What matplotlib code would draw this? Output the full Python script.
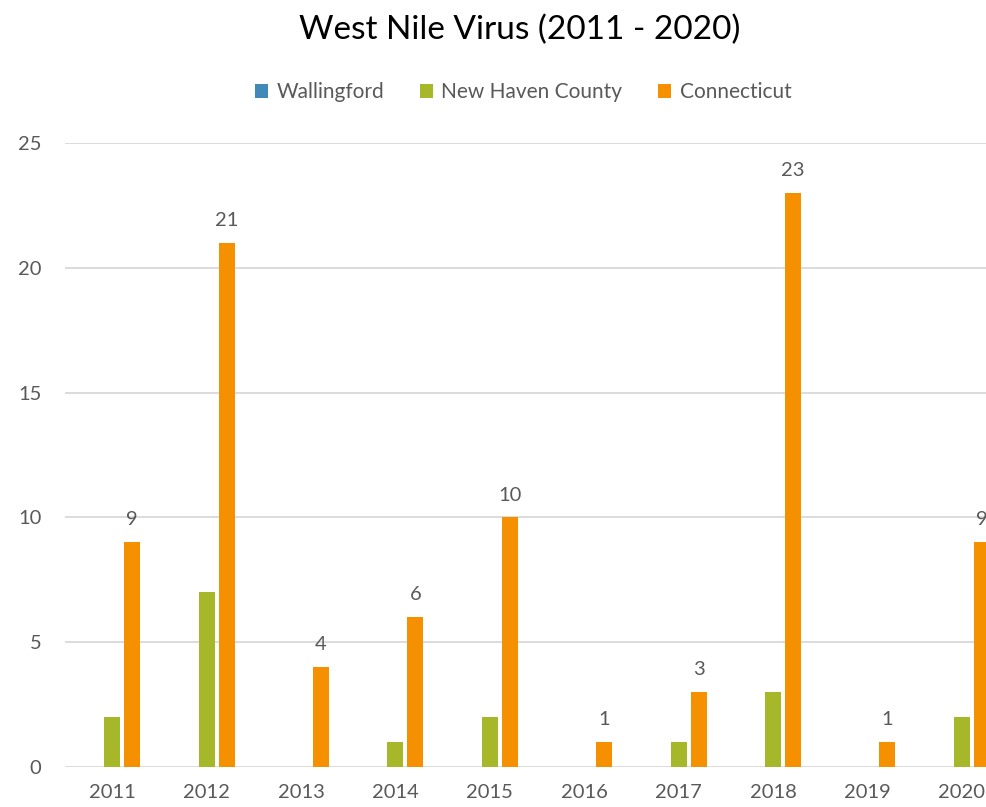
import numpy as np
import matplotlib.pyplot as plt

# data
years = ["2011", "2012", "2013", "2014", "2015", "2016", "2017", "2018", "2019", "2020"]
wallingford = [0, 0, 0, 0, 0, 0, 0, 0, 0, 0]
new_haven = [2, 7, 0, 1, 2, 0, 1, 3, 0, 2]
connecticut = [9, 21, 4, 6, 10, 1, 3, 23, 1, 9]

plt.rcParams["font.family"] = ["Lato", "DejaVu Sans"]
text_color = "#595959"
grid_color = "#d9d9d9"

fig = plt.figure(figsize=(9.86, 8.07), dpi=100)
W, H = 986, 807
ax = fig.add_axes([65 / W, 1 - 767 / H, 944 / W, (767 - 143) / H])

x = np.arange(len(years))
bw = 0.17
step = 0.212
ax.bar(x - step, wallingford, bw, color="#4189b9", label="Wallingford")
ax.bar(x, new_haven, bw, color="#a6b82a", label="New Haven County")
bars = ax.bar(x + step, connecticut, bw, color="#f59100", label="Connecticut")

for rect, v in zip(bars, connecticut):
    ax.annotate(str(v), (rect.get_x() + rect.get_width() / 2, v),
                xytext=(0, 10), textcoords="offset points",
                ha="center", va="bottom", fontsize=14.5, color=text_color)

ax.set_xlim(-0.5, len(years) - 0.5)
ax.set_ylim(0, 25)
ax.set_yticks([0, 5, 10, 15, 20, 25])
ax.set_xticks(x)
ax.set_xticklabels(years)
ax.tick_params(axis="both", length=0, labelsize=14.5, colors=text_color)
ax.tick_params(axis="x", pad=12)
ax.tick_params(axis="y", pad=17)
ax.grid(axis="y", color=grid_color, linewidth=1.3)
ax.set_axisbelow(True)
for s in ax.spines.values():
    s.set_visible(False)

fig.text(520 / W, 1 - 30 / H, "West Nile Virus (2011 - 2020)", ha="center", va="center",
         fontsize=24, color="black")
fig.legend(loc="center", bbox_to_anchor=(523 / W, 1 - 92 / H), ncol=3, frameon=False,
           fontsize=15, labelcolor=text_color, handlelength=0.65, handleheight=0.65,
           handletextpad=0.4, columnspacing=1.7)

fig.savefig("out.png", dpi=100)
